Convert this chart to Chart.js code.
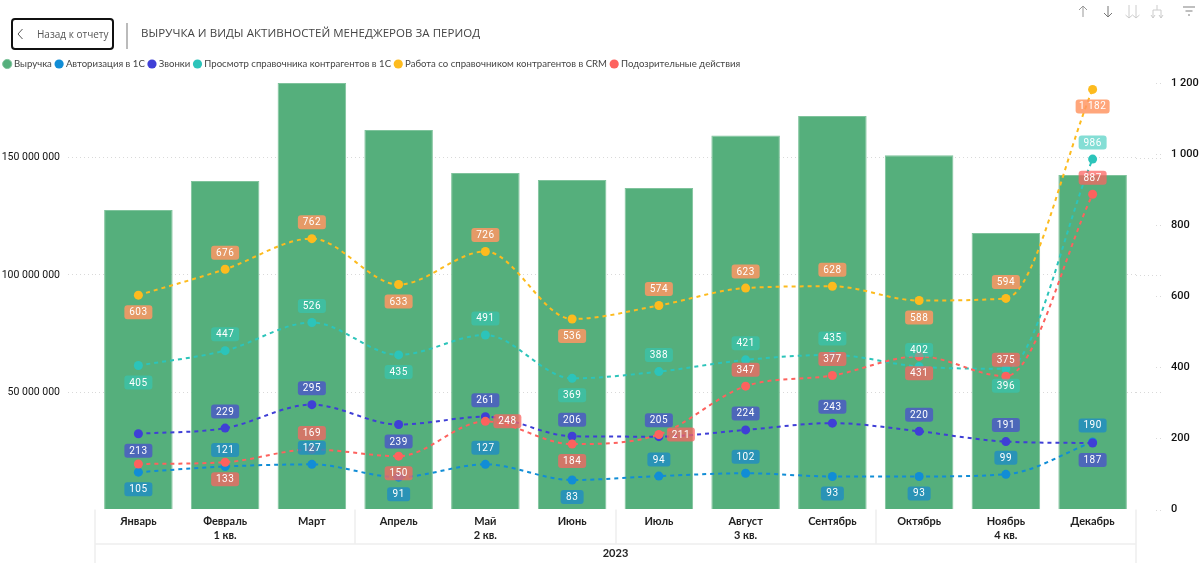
<!DOCTYPE html>
<html lang="ru">
<head>
<meta charset="utf-8">
<title>Выручка и виды активностей менеджеров</title>
<script src="https://cdn.jsdelivr.net/npm/chart.js@4"></script>
<style>
    html, body { margin: 0; padding: 0; background: #fff; }
    #wrap { position: relative; width: 1200px; height: 569px; overflow: hidden; }
    #chart { position: absolute; left: 0; top: 0; }
    #back {
        position: absolute; left: 11px; top: 18px; width: 99px; height: 28px;
        border: 2px solid #111; border-radius: 4px;
        font: 10px/29px "Open Sans", sans-serif; color: #555;
    }
    #back span { position: absolute; left: 24px; white-space: nowrap; }
    #back svg { position: absolute; left: 3px; top: 8px; }
    #sep { position: absolute; left: 126px; top: 23px; width: 2px; height: 26px; background: #bbb; }
    #title {
        position: absolute; left: 141px; top: 25px; white-space: nowrap;
        font: 11.5px/16px "Open Sans", sans-serif; color: #444; letter-spacing: 0.05px;
    }
    #icons { position: absolute; left: 1070px; top: 0; }
</style>
</head>
<body>
<div id="wrap">
    <canvas id="chart" width="1200" height="569"></canvas>
    <div id="back">
        <svg width="10" height="12" viewBox="0 0 10 12"><path d="M6.5 1 L2 6 L6.5 11" fill="none" stroke="#555" stroke-width="1"/></svg>
        <span>Назад к отчету</span>
    </div>
    <div id="sep"></div>
    <div id="title">ВЫРУЧКА И ВИДЫ АКТИВНОСТЕЙ МЕНЕДЖЕРОВ ЗА ПЕРИОД</div>
    <svg id="icons" width="130" height="24" viewBox="0 0 130 24" fill="none" stroke-width="1">
        <path d="M13 17 V6 M9 10 L13 6 L17 10" stroke="#999"/>
        <path d="M38 6 V17 M34 13 L38 17 L42 13" stroke="#777"/>
        <path d="M59 5 V18 M55.5 15 L59 18 L62.5 15 M66 5 V18 M62.5 15 L66 18 L69.5 15" stroke="#ccc"/>
        <path d="M87 5 V10 M83 18 V10 H91 V18 M81 15 L83 18 L85 15 M89 15 L91 18 L93 15" stroke="#ccc"/>
        <path d="M113 7 H125 M115.5 11 H122.5 M118 15 H120" stroke="#aaa" stroke-width="1.5"/>
    </svg>
</div>
<script>
const months = ['Январь', 'Февраль', 'Март', 'Апрель', 'Май', 'Июнь', 'Июль', 'Август', 'Сентябрь', 'Октябрь', 'Ноябрь', 'Декабрь'];
const quarters = ['', '1 кв.', '', '', '2 кв.', '', '', '3 кв.', '', '', '4 кв.', ''];
const year = '2023';

const revenue = [127700000, 140000000, 181800000, 161800000, 143400000, 140500000, 137000000, 159400000, 167700000, 151000000, 117900000, 142600000];
const logins = [105, 121, 127, 91, 127, 83, 94, 102, 93, 93, 99, 190];
const calls = [213, 229, 295, 239, 261, 206, 205, 224, 243, 220, 191, 187];
const directoryViews = [405, 447, 526, 435, 491, 369, 388, 421, 435, 402, 396, 986];
const crmWork = [603, 676, 762, 633, 726, 536, 574, 623, 628, 588, 594, 1182];
const suspicious = [128, 133, 169, 150, 248, 184, 211, 347, 377, 431, 375, 887];

const leftTicks = [0, 50000000, 100000000, 150000000];
const rightTicks = [0, 200, 400, 600, 800, 1000, 1200];

// where each value label sits: a - above, b - below, r - right, n - no label
const loginsPlace = 'baababaabbaa';
const callsPlace = 'baabaaaaaaab';
const viewsPlace = 'baababaaaaba';
const crmPlace = 'baababaaabab';
const suspiciousPlace = 'nbabrbraabaa';

const leftMax = 181800000;
const rightMax = 1200;

const font = 'Roboto, sans-serif';

function spaced(v) {
    return String(v).replace(/\B(?=(\d{3})+(?!\d))/g, ' ');
}

function lineSet(label, data, color, labelColor, place, order) {
    return {
        type: 'line',
        label: label,
        data: data,
        yAxisID: 'yRight',
        order: order,
        borderColor: color,
        backgroundColor: color,
        borderWidth: 2,
        borderDash: [4, 4],
        pointRadius: 4.5,
        pointHoverRadius: 4.5,
        pointBorderWidth: 0,
        cubicInterpolationMode: 'monotone',
        clip: false,
        valueLabel: { color: labelColor, place: place }
    };
}

// rounded value labels next to the line points
const valueLabels = {
    id: 'valueLabels',
    afterDatasetsDraw(chart) {
        const ctx = chart.ctx;
        ctx.save();
        ctx.font = '400 10px ' + font;
        ctx.textAlign = 'center';
        ctx.textBaseline = 'middle';
        if ('letterSpacing' in ctx) ctx.letterSpacing = '0.5px';
        chart.data.datasets.forEach((ds, i) => {
            if (!ds.valueLabel) return;
            chart.getDatasetMeta(i).data.forEach((pt, j) => {
                const place = ds.valueLabel.place[j];
                if (place === 'n') return;
                const text = spaced(ds.data[j]);
                const w = text.length >= 4 ? 34 : text.length === 3 ? 28 : 23;
                let x = pt.x;
                let y = pt.y;
                if (place === 'a') y -= 16.5;
                if (place === 'b') y += 17;
                if (place === 'r') x += 22;
                ctx.fillStyle = ds.valueLabel.color;
                ctx.beginPath();
                ctx.roundRect(x - w / 2, y - 7, w, 14, 3);
                ctx.fill();
                ctx.fillStyle = '#fff';
                ctx.fillText(text, x, y + 0.5);
            });
        });
        ctx.restore();
    }
};

// dotted grid beyond the plot area, and the multi level axis separators
const axisExtras = {
    id: 'axisExtras',
    beforeDatasetsDraw(chart) {
        const ctx = chart.ctx;
        const area = chart.chartArea;
        ctx.save();
        ctx.strokeStyle = '#d9d9d9';
        ctx.setLineDash([1, 3]);
        chart.scales.y.ticks.forEach(t => {
            if (t.value === 0) return;
            const y = Math.round(chart.scales.y.getPixelForValue(t.value)) + 0.5;
            ctx.beginPath();
            ctx.moveTo(area.right, y);
            ctx.lineTo(1163, y);
            ctx.stroke();
        });
        chart.scales.yRight.ticks.forEach(t => {
            const y = Math.round(chart.scales.yRight.getPixelForValue(t.value)) + 0.5;
            ctx.beginPath();
            ctx.moveTo(1156, y);
            ctx.lineTo(1163, y);
            ctx.stroke();
        });
        ctx.restore();
    },
    afterDraw(chart) {
        const ctx = chart.ctx;
        const x = chart.scales.x;
        const step = x.getPixelForTick(1) - x.getPixelForTick(0);
        const bottom = chart.chartArea.bottom;
        ctx.save();
        ctx.strokeStyle = '#eeeeee';
        ctx.lineWidth = 1.5;
        for (let i = 0; i <= months.length; i += 3) {
            const px = Math.round(x.getPixelForTick(0) + step * (i - 0.5));
            const outer = i === 0 || i === months.length;
            ctx.beginPath();
            ctx.moveTo(px, bottom);
            ctx.lineTo(px, outer ? 563 : 544);
            ctx.stroke();
        }
        ctx.beginPath();
        ctx.moveTo(x.left, 544);
        ctx.lineTo(x.right, 544);
        ctx.stroke();
        ctx.restore();
    }
};

// keeps the plot area below the legend at the reference height
const legendGap = {
    id: 'legendGap',
    beforeInit(chart) {
        const fit = chart.legend.fit;
        chart.legend.fit = function () {
            fit.call(this);
            this.height = 29;
        };
    }
};

new Chart(document.getElementById('chart').getContext('2d'), {
    data: {
        labels: months.map((m, i) => quarters[i] ? [m, quarters[i]] : m),
        datasets: [
            {
                type: 'bar',
                label: 'Выручка',
                data: revenue,
                yAxisID: 'y',
                order: 6,
                backgroundColor: '#55AF7C',
                borderColor: '#7FC39C',
                borderWidth: 1,
                barPercentage: 0.79,
                categoryPercentage: 1
            },
            lineSet('Авторизация в 1С', logins, '#118DD6', 'rgba(31,140,196,0.8)', loginsPlace, 5),
            lineSet('Звонки', calls, '#3F3FD6', 'rgba(75,85,200,0.8)', callsPlace, 4),
            lineSet('Просмотр справочника контрагентов в 1С', directoryViews, '#2CC4BA', 'rgba(50,200,185,0.6)', viewsPlace, 3),
            lineSet('Работа со справочником контрагентов в CRM', crmWork, '#FDBB1E', 'rgba(255,150,100,0.85)', crmPlace, 2),
            lineSet('Подозрительные действия', suspicious, '#FD625E', 'rgba(251,100,97,0.75)', suspiciousPlace, 1)
        ]
    },
    options: {
        responsive: false,
        animation: false,
        events: [],
        layout: { padding: { top: 54, left: 0, right: 0, bottom: 0 } },
        plugins: {
            tooltip: { enabled: false },
            legend: {
                position: 'top',
                align: 'start',
                labels: {
                    usePointStyle: true,
                    pointStyle: 'circle',
                    boxWidth: 4,
                    boxHeight: 6.5,
                    padding: 5.2,
                    color: '#444',
                    sort: (a, b) => a.datasetIndex - b.datasetIndex,
                    font: { family: 'Lato, sans-serif', size: 9.6 }
                }
            }
        },
        scales: {
            x: {
                afterFit(s) { s.height = 59.5; },
                grid: { display: false, drawTicks: false },
                border: { display: false },
                offset: true,
                ticks: {
                    autoSkip: false,
                    maxRotation: 0,
                    padding: 4,
                    color: '#222',
                    font: { family: 'Lato, sans-serif', size: 11, weight: '700', lineHeight: 1.36 }
                },
                title: {
                    display: true,
                    text: year,
                    color: '#222',
                    padding: { top: 0, bottom: 9 },
                    font: { family: 'Lato, sans-serif', size: 11, weight: '700' }
                }
            },
            y: {
                position: 'left',
                min: 0,
                max: leftMax,
                afterFit(s) { s.width = 95; },
                afterBuildTicks(s) { s.ticks = leftTicks.map(v => ({ value: v })); },
                border: { display: false, dash: [1, 3] },
                grid: {
                    color: c => c.tick.value === 0 ? 'transparent' : '#d9d9d9',
                    tickColor: c => c.tick.value === 0 ? 'transparent' : '#d9d9d9',
                    tickLength: 27,
                    tickBorderDash: [1, 3]
                },
                ticks: {
                    padding: 8,
                    color: '#111',
                    font: { family: font, size: 10.5 },
                    callback: v => v === 0 ? '' : spaced(v)
                }
            },
            yRight: {
                position: 'right',
                min: 0,
                max: rightMax,
                afterFit(s) { s.width = 64; },
                afterBuildTicks(s) { s.ticks = rightTicks.map(v => ({ value: v })); },
                border: { display: false },
                grid: { drawOnChartArea: false, tickColor: 'transparent', tickLength: 27 },
                ticks: {
                    padding: 8,
                    color: '#111',
                    font: { family: font, size: 11, weight: '500' },
                    callback: v => spaced(v)
                }
            }
        }
    },
    plugins: [axisExtras, valueLabels, legendGap]
});
</script>
</body>
</html>
